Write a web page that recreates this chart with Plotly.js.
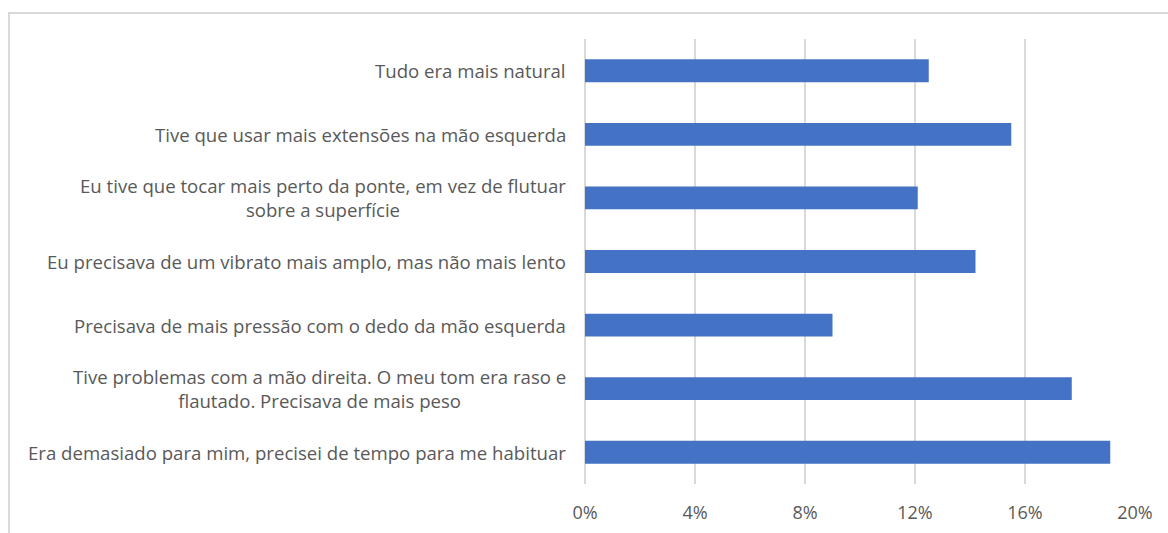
<!DOCTYPE html>
<html>
<head>
<meta charset="utf-8">
<script src="https://cdn.plot.ly/plotly-3.0.1.min.js"></script>
<style>
  html, body { margin: 0; padding: 0; background: #ffffff; }
  #wrap { position: relative; width: 1168px; height: 533px; overflow: hidden; }
  #frame { position: absolute; left: 8px; top: 12px; width: 1300px; height: 700px;
           border-left: 2px solid #d9d9d9; border-top: 2px solid #d9d9d9; box-sizing: border-box; }
  #chart { position: absolute; left: 0; top: 0; width: 1168px; height: 533px; }
</style>
</head>
<body>
<div id="wrap">
  <div id="frame"></div>
  <div id="chart"></div>
</div>
<script>
// Categories, top to bottom as shown
const categories = [
  "Tudo era mais natural",
  "Tive que usar mais extensões na mão esquerda",
  "Eu tive que tocar mais perto da ponte, em vez de flutuar<br>sobre a superfície",
  "Eu precisava de um vibrato mais amplo, mas não mais lento",
  "Precisava de mais pressão com o dedo da mão esquerda",
  "Tive problemas com a mão direita. O meu tom era raso e<br>flautado. Precisava de mais peso",
  "Era demasiado para mim, precisei de tempo para me habituar"
];
// Percent values
const values = [12.5, 15.5, 12.1, 14.2, 9.0, 17.7, 19.1];
const tickValues = [0, 4, 8, 12, 16, 20];
const tickLabels = ["0%", "4%", "8%", "12%", "16%", "20%"];

const FONT = "'Open Sans', Lato, sans-serif";
const TEXT = "#595959";

const trace = {
  type: "bar",
  orientation: "h",
  x: values,
  y: categories,
  marker: { color: "#4472c4" },
  hoverinfo: "x+y"
};

const annotations = categories.map(c => ({
  xref: "paper", yref: "y",
  x: 0, y: c,
  xanchor: "right", yanchor: "middle",
  xshift: -17,
  align: "center",
  showarrow: false,
  text: c,
  font: { family: FONT, size: 18.6, color: TEXT }
}));

const layout = {
  width: 1168, height: 533,
  margin: { l: 585, r: 33, t: 39, b: 49, pad: 0 },
  paper_bgcolor: "rgba(0,0,0,0)",
  plot_bgcolor: "rgba(0,0,0,0)",
  showlegend: false,
  bargap: 0.64,
  font: { family: FONT, size: 17, color: TEXT },
  xaxis: {
    range: [0, 20],
    tickvals: tickValues,
    ticktext: tickLabels,
    showgrid: true, gridcolor: "#d9d9d9", gridwidth: 2,
    zeroline: true, zerolinecolor: "#d9d9d9", zerolinewidth: 2,
    showline: false,
    ticks: "", ticklabelstandoff: 16,
    tickfont: { family: FONT, size: 18, color: TEXT },
    fixedrange: true
  },
  yaxis: {
    type: "category",
    categoryorder: "array",
    categoryarray: categories,
    autorange: "reversed",
    showticklabels: false,
    showgrid: false, zeroline: false, showline: false,
    ticks: "",
    fixedrange: true
  },
  annotations: annotations
};

Plotly.newPlot("chart", [trace], layout, { displayModeBar: false, staticPlot: true });
</script>
</body>
</html>
